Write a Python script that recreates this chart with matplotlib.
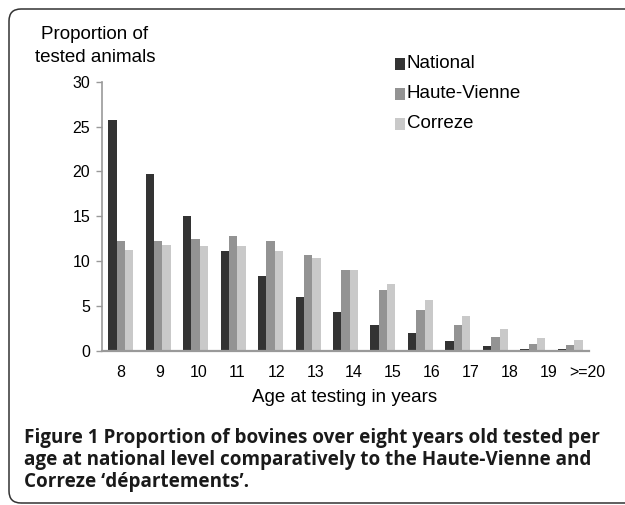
import matplotlib
matplotlib.use("Agg")
import matplotlib.pyplot as plt
from matplotlib.patches import FancyBboxPatch, Rectangle
import numpy as np

ages = ["8", "9", "10", "11", "12", "13", "14", "15", "16", "17", "18", "19", ">=20"]
national = [25.7, 19.7, 15.0, 11.1, 8.4, 6.0, 4.4, 2.95, 1.95, 1.15, 0.55, 0.2, 0.2]
haute_vienne = [12.3, 12.3, 12.5, 12.8, 12.3, 10.7, 9.0, 6.8, 4.6, 2.9, 1.6, 0.8, 0.7]
correze = [11.3, 11.8, 11.7, 11.7, 11.1, 10.4, 9.0, 7.5, 5.7, 3.9, 2.45, 1.45, 1.2]

series_names = ["National", "Haute-Vienne", "Correze"]
colors = ["#333333", "#939393", "#c9c9c9"]

plt.rcParams["font.family"] = ["Liberation Sans", "DejaVu Sans"]

W, H = 625, 505
fig = plt.figure(figsize=(W / 100, H / 100), dpi=100)
ax = fig.add_axes([102 / W, 1 - 351 / H, (589 - 102) / W, (351 - 81.7) / H])

x = np.arange(len(ages))
w = 0.222
for i, (vals, c) in enumerate(zip([national, haute_vienne, correze], colors)):
    ax.bar(x + (i - 1) * w, vals, width=w, color=c, linewidth=0)

ax.set_xlim(-0.5, len(ages) - 0.5)
ax.set_ylim(0, 30)
ax.set_yticks(range(0, 31, 5))
ax.tick_params(axis="y", length=4.5, width=1, color="#999999", labelsize=11.5, pad=4)
# labels drift a bit to the right in the original
ax.set_xticks(x * 1.0385)
ax.set_xticklabels(ages)
ax.tick_params(axis="x", length=0, labelsize=11.5, pad=10)
for s in ["top", "right"]:
    ax.spines[s].set_visible(False)
ax.spines["left"].set_color("#999999")
ax.spines["left"].set_linewidth(1.2)
ax.spines["bottom"].set_color("#999999")
ax.spines["bottom"].set_linewidth(1.6)

fig.text(95 / W, 1 - 34 / H, "Proportion of", ha="center", va="center", fontsize=13.5)
fig.text(95 / W, 1 - 58 / H, "tested animals", ha="center", va="center", fontsize=13.5)
fig.text(345 / W, 1 - 397 / H, "Age at testing in years", ha="center", va="center", fontsize=13.5)

# legend
for k, (name, c) in enumerate(zip(series_names, colors)):
    yc = 1 - (64 + k * 30) / H
    fig.patches.append(Rectangle((395 / W, yc - 6 / H), 10 / W, 12 / H,
                                 transform=fig.transFigure, color=c, linewidth=0))
    fig.text(407 / W, yc, name, ha="left", va="center", fontsize=13.5)

# caption
cap_font = ["Open Sans", "DejaVu Sans"]
caption = [
    "Figure 1 Proportion of bovines over eight years old tested per",
    "age at national level comparatively to the Haute-Vienne and",
    "Correze \u2018d\u00e9partements\u2019.",
]
for k, line in enumerate(caption):
    fig.text(24 / W, 1 - (438 + k * 22) / H, line, ha="left", va="center",
             fontsize=13.6, family=cap_font, weight="bold", color="#1a1a1a")

# rounded frame, running off the right edge
box = FancyBboxPatch((0.09, 0.02), 7.0, 4.94,
                     boxstyle="round,pad=0,rounding_size=0.12",
                     transform=fig.dpi_scale_trans, facecolor="none",
                     edgecolor="#333333", linewidth=1.1)
fig.patches.append(box)

fig.savefig("out.png", dpi=100)
